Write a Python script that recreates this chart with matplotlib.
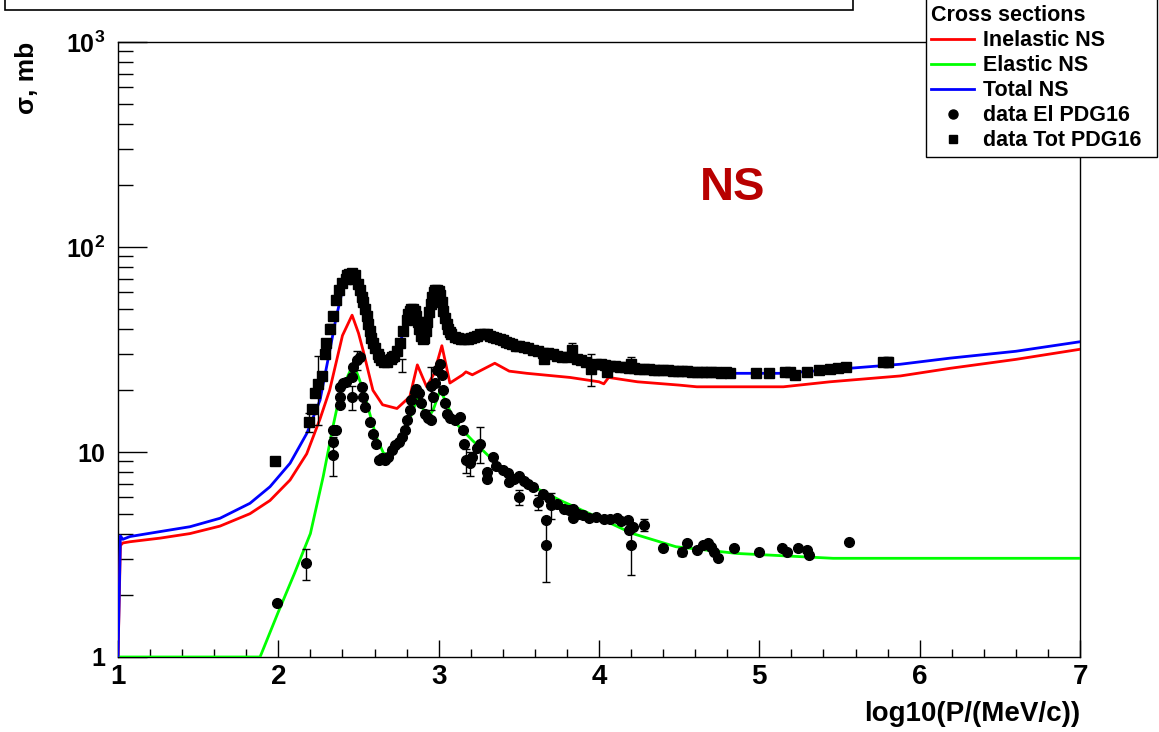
import numpy as np
import matplotlib
matplotlib.use('Agg')
import matplotlib.pyplot as plt
from matplotlib.lines import Line2D
from matplotlib.patches import Rectangle
from matplotlib.ticker import FixedLocator, FixedFormatter, LogLocator, MultipleLocator, NullFormatter

plt.rcParams['font.family'] = ['Liberation Sans', 'DejaVu Sans']
plt.rcParams['font.weight'] = 'bold'
plt.rcParams['mathtext.fontset'] = 'custom'
plt.rcParams['mathtext.rm'] = 'Liberation Sans:bold'
plt.rcParams['mathtext.bf'] = 'Liberation Sans:bold'
plt.rcParams['mathtext.it'] = 'Liberation Sans:bold'

# Model curves: x = log10(P/(MeV/c)), y = cross section in mb
inel_x = [1.0, 1.015, 1.03, 1.075, 1.262, 1.449, 1.636, 1.823, 1.948, 2.073, 2.177, 2.26, 2.32,
          2.40, 2.46, 2.50, 2.53, 2.59, 2.65, 2.74, 2.82, 2.867, 2.925, 2.97, 3.02, 3.07, 3.15,
          3.17, 3.21, 3.35, 3.44, 3.55, 3.82, 4.0, 4.03, 4.06, 4.24, 4.5, 4.61, 5.15, 5.44, 5.88,
          6.19, 6.6, 7.0]
inel_y = [1.0, 3.5, 3.6, 3.65, 3.8, 4.0, 4.35, 5.0, 5.8, 7.3, 9.8, 14.5, 20.0,
          37.0, 46.5, 38.0, 31.0, 20.0, 17.0, 16.3, 18.6, 26.6, 20.8, 24.0, 33.0, 21.7, 23.8,
          24.6, 23.8, 27.1, 24.8, 24.2, 23.1, 22.0, 21.5, 23.1, 22.0, 21.2, 20.8, 20.8, 22.0, 23.5,
          25.6, 28.3, 31.7]

el_x = [1.0, 1.886, 2.0, 2.1, 2.2, 2.28, 2.34, 2.385, 2.45, 2.48, 2.53, 2.57, 2.61, 2.655, 2.70,
        2.76, 2.82, 2.87, 2.93, 2.965, 3.01, 3.05, 3.10, 3.21, 3.38, 3.57, 3.76, 3.96, 4.21,
        4.48, 4.86, 5.46, 7.0]
el_y = [1.0, 1.0, 1.66, 2.55, 4.0, 7.6, 13.2, 19.3, 25.1, 25.6, 20.0, 15.4, 11.9, 9.9, 9.5,
        11.0, 14.5, 18.5, 14.5, 16.0, 20.0, 17.3, 14.0, 11.4, 8.5, 6.9, 5.8, 4.93, 4.0,
        3.45, 3.2, 3.03, 3.03]

tot_x = [1.0, 1.015, 1.03, 1.075, 1.262, 1.449, 1.636, 1.823, 1.948, 2.073, 2.177, 2.26, 2.32,
         2.36, 2.405, 2.45, 2.49, 2.55, 2.60, 2.65, 2.70, 2.74, 2.80, 2.84, 2.87, 2.905, 2.95,
         2.99, 3.03, 3.07, 3.13, 3.2, 3.3, 3.4, 3.5, 3.72, 3.96, 4.34, 4.84, 5.15, 5.56, 5.88,
         6.19, 6.6, 7.0]
tot_y = [1.0, 3.9, 3.75, 3.87, 4.09, 4.32, 4.75, 5.62, 6.77, 8.81, 12.3, 17.9, 31.0,
         45.0, 64.0, 73.0, 68.0, 46.0, 33.0, 27.5, 28.0, 30.0, 44.0, 50.0, 45.0, 37.0, 50.0,
         62.0, 48.0, 39.0, 36.0, 36.0, 37.5, 35.0, 32.5, 30.0, 26.6, 25.5, 24.2, 24.2, 25.6, 26.8,
         28.7, 31.0, 34.5]

# PDG16 total cross section points
dtot_x = [1.98, 2.19, 2.21, 2.23, 2.25, 2.27, 2.29, 2.30, 2.32, 2.34, 2.36, 2.38, 2.40, 2.42,
          2.43, 2.44, 2.45, 2.46, 2.47, 2.48, 2.50, 2.51, 2.52, 2.53, 2.54, 2.55, 2.56, 2.57,
          2.58, 2.59, 2.60, 2.62, 2.63, 2.64, 2.66, 2.68, 2.70, 2.71, 2.72, 2.74, 2.76, 2.78,
          2.80, 2.81, 2.82, 2.83, 2.84, 2.85, 2.86, 2.87, 2.88, 2.89, 2.90, 2.91, 2.92, 2.93,
          2.94, 2.95, 2.96, 2.97, 2.98, 2.99, 3.00, 3.01, 3.02, 3.03, 3.04, 3.05, 3.06, 3.07,
          3.08, 3.10, 3.12, 3.14, 3.16, 3.18, 3.20, 3.22, 3.24, 3.26, 3.28, 3.30, 3.32, 3.34,
          3.36, 3.38, 3.40, 3.42, 3.44, 3.46, 3.48, 3.50, 3.53, 3.56, 3.59, 3.62, 3.65, 3.66,
          3.68, 3.71, 3.74, 3.77, 3.80, 3.83, 3.86, 3.89, 3.92, 3.95, 3.98, 4.01, 4.04, 4.05,
          4.07, 4.10, 4.13, 4.16, 4.19, 4.20, 4.22, 4.25, 4.28, 4.31, 4.34, 4.37, 4.40, 4.43,
          4.46, 4.49, 4.52, 4.55, 4.58, 4.61, 4.64, 4.67, 4.70, 4.73, 4.76, 4.79, 4.82, 4.98,
          5.06, 5.16, 5.19, 5.22, 5.30, 5.37, 5.44, 5.49, 5.54, 5.77, 5.80]
dtot_y = [9.0, 14.0, 16.3, 19.5, 21.5, 23.5, 30.0, 34.0, 40.0, 46.0, 55.0, 62.0, 67.0, 70.0,
          73.0, 74.0, 72.0, 75.0, 70.0, 73.0, 66.0, 62.0, 57.0, 54.0, 50.0, 46.0, 42.0, 39.0,
          36.0, 34.0, 32.0, 30.0, 29.0, 28.0, 27.5, 27.5, 28.5, 29.0, 29.5, 31.0, 34.0, 39.0,
          44.0, 47.0, 49.0, 50.0, 50.0, 49.0, 46.0, 43.0, 40.0, 37.0, 35.5, 36.0, 39.0, 43.0,
          48.0, 53.0, 57.0, 60.0, 62.0, 62.0, 61.0, 58.0, 54.0, 49.0, 45.0, 42.0, 40.0, 38.5,
          37.5, 36.5, 36.0, 35.5, 35.5, 35.5, 36.0, 36.5, 37.0, 37.5, 37.5, 37.5, 37.0, 36.5,
          36.0, 35.5, 35.0, 34.5, 34.0, 33.5, 33.0, 33.0, 32.5, 32.0, 31.5, 31.0, 30.5, 28.5,
          30.5, 30.0, 29.5, 29.0, 29.0, 31.5, 28.5, 28.0, 27.5, 25.5, 27.0, 26.8, 26.5, 24.5,
          26.3, 26.2, 26.0, 26.0, 25.8, 27.0, 25.6, 25.5, 25.5, 25.3, 25.2, 25.1, 25.0, 25.0,
          24.9, 24.8, 24.8, 24.7, 24.6, 24.6, 24.5, 24.5, 24.6, 24.5, 24.4, 24.5, 24.4, 24.4,
          24.4, 24.6, 24.6, 23.8, 24.6, 25.0, 25.3, 25.6, 26.1, 27.4, 27.6]
# points with visible error bars
dtot_err_x = [2.19, 2.25, 2.32, 2.53, 2.77, 3.14, 3.20, 3.66, 3.83, 3.95, 4.05, 4.20, 5.80]
dtot_err_y = [14.0, 21.5, 40.0, 54.0, 26.5, 35.5, 36.0, 28.5, 31.5, 25.5, 24.5, 27.0, 27.6]
dtot_err = [1.5, 8.0, 2.0, 2.0, 2.0, 1.0, 1.0, 1.0, 2.5, 4.5, 1.0, 2.0, 1.5]

# PDG16 elastic cross section points
del_x = [1.99, 2.17, 2.34, 2.34, 2.34, 2.36, 2.385, 2.385, 2.385, 2.405, 2.425, 2.457, 2.457,
         2.467, 2.49, 2.51, 2.52, 2.53, 2.54, 2.57, 2.59, 2.61, 2.63, 2.645, 2.665, 2.685,
         2.71, 2.73, 2.75, 2.77, 2.79, 2.80, 2.82, 2.83, 2.85, 2.86, 2.88, 2.89, 2.915, 2.935,
         2.95, 2.955, 2.967, 2.977, 2.99, 3.01, 3.02, 3.03, 3.04, 3.05, 3.07, 3.10, 3.13, 3.15,
         3.16, 3.17, 3.195, 3.21, 3.24, 3.26, 3.30, 3.30, 3.34, 3.36, 3.40, 3.43, 3.44, 3.47,
         3.50, 3.50, 3.53, 3.56, 3.59, 3.62, 3.65, 3.67, 3.67, 3.69, 3.70, 3.74, 3.78, 3.81,
         3.84, 3.84, 3.87, 3.90, 3.94, 3.98, 4.03, 4.07, 4.11, 4.14, 4.18, 4.19, 4.20, 4.21,
         4.28, 4.40, 4.52, 4.55, 4.61, 4.65, 4.68, 4.70, 4.72, 4.74, 4.84, 5.00, 5.14, 5.17,
         5.24, 5.30, 5.31, 5.56]
del_y = [1.84, 2.88, 9.7, 11.2, 12.8, 12.8, 16.9, 18.6, 20.8, 21.6, 22.0, 23.3, 18.6,
         26.0, 28.0, 29.2, 20.8, 18.6, 16.6, 14.0, 12.3, 11.0, 9.1, 9.3, 9.1, 9.5,
         10.2, 10.8, 11.2, 11.9, 12.8, 14.3, 16.0, 17.9, 19.7, 20.4, 19.3, 17.3, 15.4, 14.6,
         21.0, 14.3, 18.6, 21.6, 25.1, 27.0, 23.8, 20.0, 17.3, 15.4, 14.6, 14.3, 14.8, 12.8,
         11.0, 9.1, 8.8, 9.5, 10.5, 11.0, 8.0, 7.4, 9.5, 8.5, 8.2, 7.9, 7.1, 7.4,
         7.6, 6.0, 7.2, 7.0, 6.77, 5.7, 6.27, 4.66, 3.52, 5.95, 5.5, 5.6, 5.3, 5.2,
         5.3, 4.75, 5.0, 4.93, 4.75, 4.8, 4.7, 4.7, 4.75, 4.6, 4.66, 4.16, 3.52, 4.32,
         4.4, 3.39, 3.26, 3.58, 3.32, 3.52, 3.58, 3.45, 3.26, 3.03, 3.42, 3.26, 3.39, 3.26,
         3.39, 3.32, 3.14, 3.62]
del_err_x = [2.17, 2.34, 2.457, 2.49, 2.95, 3.17, 3.195, 3.26, 3.50, 3.62, 3.67, 3.70, 4.20, 4.28, 4.52]
del_err_y = [2.88, 9.7, 18.6, 28.0, 21.0, 9.1, 8.8, 11.0, 6.0, 5.7, 3.52, 5.5, 3.52, 4.4, 3.26]
del_err = [0.5, 2.1, 2.5, 3.0, 5.0, 1.2, 1.2, 2.2, 0.5, 0.5, 1.2, 0.8, 1.0, 0.3, 0.15]

fig = plt.figure(figsize=(11.59, 7.32), dpi=100)
ax = fig.add_axes([118 / 1159, 1 - 657 / 732, 962 / 1159, 615 / 732])

ax.plot(inel_x, inel_y, color='#ff0000', lw=2.0, zorder=3)
ax.plot(el_x, el_y, color='#00ff00', lw=2.0, zorder=3)
ax.plot(tot_x, tot_y, color='#0000ff', lw=2.0, zorder=3)

ax.errorbar(dtot_err_x, dtot_err_y, yerr=dtot_err, fmt='none', ecolor='black', elinewidth=1.0, capsize=3, zorder=4)
ax.errorbar(del_err_x, del_err_y, yerr=del_err, fmt='none', ecolor='black', elinewidth=1.0, capsize=3, zorder=4)
ax.plot(dtot_x, dtot_y, 's', color='black', ms=6.5, zorder=5)
ax.plot(del_x, del_y, 'o', color='black', ms=7, zorder=5)

ax.set_yscale('log')
ax.set_xlim(1, 7)
ax.set_ylim(1, 1000)

# axis ticks: inward, ROOT-like
ax.xaxis.set_major_locator(MultipleLocator(1))
ax.xaxis.set_minor_locator(MultipleLocator(0.2))
ax.yaxis.set_major_locator(FixedLocator([1, 10, 100, 1000]))
ax.yaxis.set_major_formatter(FixedFormatter(['1', '10', '$10^{2}$', '$10^{3}$']))
ax.yaxis.set_minor_locator(LogLocator(base=10, subs=np.arange(2, 10)))
ax.yaxis.set_minor_formatter(NullFormatter())
ax.tick_params(axis='x', which='major', direction='in', length=12, width=1.0, labelsize=20, pad=5)
ax.tick_params(axis='x', which='minor', direction='in', length=6, width=1.0)
ax.tick_params(axis='y', which='major', direction='in', length=21, width=1.0, labelsize=18, pad=9)
ax.tick_params(axis='y', which='minor', direction='in', length=11, width=1.0)
for lab in ax.get_xticklabels() + ax.get_yticklabels():
    lab.set_fontweight('bold')
for sp in ax.spines.values():
    sp.set_linewidth(1.0)

ax.text(0.639, 0.763, 'NS', transform=ax.transAxes, ha='center', va='center',
        fontsize=34, fontweight='bold', color='#b80000')

fig.text(1080 / 1159, 1 - 714 / 732, 'log10(P/(MeV/c))', ha='right', va='center',
         fontsize=20, fontweight='bold')
fig.text(27 / 1159, 1 - 42 / 732, 'σ, mb', rotation=90, ha='center', va='top',
         fontsize=19, fontweight='bold')

# header box cut by the top edge
fig.add_artist(Rectangle((5 / 1159, 1 - 10 / 732), 848 / 1159, 0.05, transform=fig.transFigure,
                         facecolor='white', edgecolor='black', lw=1.2, clip_on=False))

# legend box
fig.add_artist(Rectangle((926 / 1159, 1 - 157 / 732), 231 / 1159, 0.25, transform=fig.transFigure,
                         facecolor='white', edgecolor='black', lw=1.0, zorder=10))
handles = [Line2D([], [], color='#ff0000', lw=2.0),
           Line2D([], [], color='#00ff00', lw=2.0),
           Line2D([], [], color='#0000ff', lw=2.0),
           Line2D([], [], ls='none', marker='o', color='black', ms=6.5),
           Line2D([], [], ls='none', marker='s', color='black', ms=5.5)]
labels = ['Inelastic NS', 'Elastic NS', 'Total NS', 'data El PDG16', 'data Tot PDG16']
leg = fig.legend(handles, labels, loc='upper left', bbox_to_anchor=(931 / 1159, 1 - 5 / 732),
                 frameon=False, title='Cross sections', alignment='left',
                 prop={'size': 15.5, 'weight': 'bold'},
                 title_fontproperties={'size': 15.5, 'weight': 'bold'},
                 handlelength=2.0, handletextpad=0.4, labelspacing=0.19, borderpad=0, borderaxespad=0)
leg.set_zorder(11)

plt.savefig('out.png', dpi=100)
